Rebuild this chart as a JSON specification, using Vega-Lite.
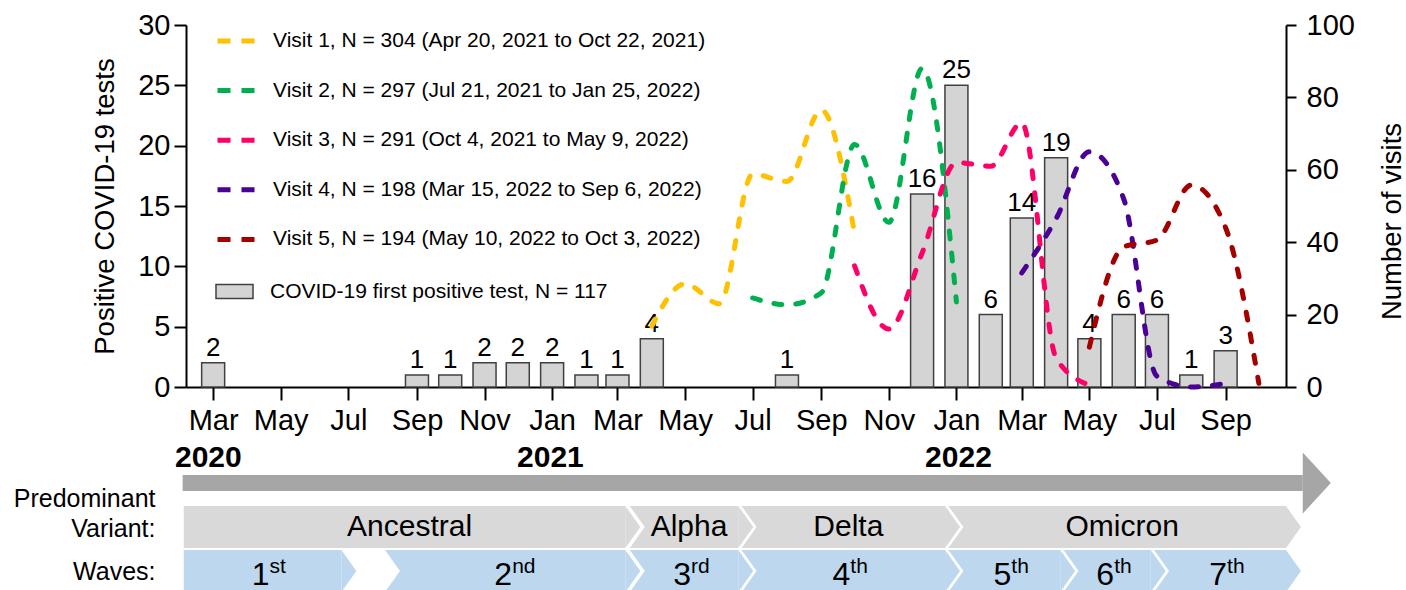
{
  "$schema": "https://vega.github.io/schema/vega-lite/v6.json",
  "autosize": {"type": "pad"},
  "padding": {"left": 13, "top": 11, "right": 0, "bottom": 0},
  "background": "white",
  "config": {
    "view": {"stroke": null},
    "font": "Liberation Sans",
    "axis": {"labelFont": "Liberation Sans", "titleFont": "Liberation Sans", "labelColor": "#000", "titleColor": "#000", "titleFontWeight": "normal", "domainColor": "#000", "tickColor": "#000", "grid": false},
    "legend": {"labelColor": "#000"}
  },
  "datasets": {
    "tests": [
      {"month": "2020-03-01T00:00", "tests": 2},
      {"month": "2020-09-01T00:00", "tests": 1},
      {"month": "2020-10-01T00:00", "tests": 1},
      {"month": "2020-11-01T00:00", "tests": 2},
      {"month": "2020-12-01T00:00", "tests": 2},
      {"month": "2021-01-01T00:00", "tests": 2},
      {"month": "2021-02-01T00:00", "tests": 1},
      {"month": "2021-03-01T00:00", "tests": 1},
      {"month": "2021-04-01T00:00", "tests": 4},
      {"month": "2021-08-01T00:00", "tests": 1},
      {"month": "2021-12-01T00:00", "tests": 16},
      {"month": "2022-01-01T00:00", "tests": 25},
      {"month": "2022-02-01T00:00", "tests": 6},
      {"month": "2022-03-01T00:00", "tests": 14},
      {"month": "2022-04-01T00:00", "tests": 19},
      {"month": "2022-05-01T00:00", "tests": 4},
      {"month": "2022-06-01T00:00", "tests": 6},
      {"month": "2022-07-01T00:00", "tests": 6},
      {"month": "2022-08-01T00:00", "tests": 1},
      {"month": "2022-09-01T00:00", "tests": 3}
    ],
    "visits": [
      {"series": "Visit 1, N = 304 (Apr 20, 2021 to Oct 22, 2021)", "month": "2021-04-01T00:00", "visits": 16.8},
      {"series": "Visit 1, N = 304 (Apr 20, 2021 to Oct 22, 2021)", "month": "2021-05-01T00:00", "visits": 28.5},
      {"series": "Visit 1, N = 304 (Apr 20, 2021 to Oct 22, 2021)", "month": "2021-06-01T00:00", "visits": 23},
      {"series": "Visit 1, N = 304 (Apr 20, 2021 to Oct 22, 2021)", "month": "2021-07-01T00:00", "visits": 58.8},
      {"series": "Visit 1, N = 304 (Apr 20, 2021 to Oct 22, 2021)", "month": "2021-08-01T00:00", "visits": 56.8},
      {"series": "Visit 1, N = 304 (Apr 20, 2021 to Oct 22, 2021)", "month": "2021-09-01T00:00", "visits": 76.5},
      {"series": "Visit 1, N = 304 (Apr 20, 2021 to Oct 22, 2021)", "month": "2021-10-01T00:00", "visits": 42.5},
      {"series": "Visit 2, N = 297 (Jul 21, 2021 to Jan 25, 2022)", "month": "2021-07-01T00:00", "visits": 24.6},
      {"series": "Visit 2, N = 297 (Jul 21, 2021 to Jan 25, 2022)", "month": "2021-08-01T00:00", "visits": 22.7},
      {"series": "Visit 2, N = 297 (Jul 21, 2021 to Jan 25, 2022)", "month": "2021-09-01T00:00", "visits": 26},
      {"series": "Visit 2, N = 297 (Jul 21, 2021 to Jan 25, 2022)", "month": "2021-10-01T00:00", "visits": 67},
      {"series": "Visit 2, N = 297 (Jul 21, 2021 to Jan 25, 2022)", "month": "2021-11-01T00:00", "visits": 45.5},
      {"series": "Visit 2, N = 297 (Jul 21, 2021 to Jan 25, 2022)", "month": "2021-12-01T00:00", "visits": 88},
      {"series": "Visit 2, N = 297 (Jul 21, 2021 to Jan 25, 2022)", "month": "2022-01-01T00:00", "visits": 23.5},
      {"series": "Visit 3, N = 291 (Oct 4, 2021 to May 9, 2022)", "month": "2021-10-01T00:00", "visits": 33.5},
      {"series": "Visit 3, N = 291 (Oct 4, 2021 to May 9, 2022)", "month": "2021-11-01T00:00", "visits": 16},
      {"series": "Visit 3, N = 291 (Oct 4, 2021 to May 9, 2022)", "month": "2021-12-01T00:00", "visits": 37},
      {"series": "Visit 3, N = 291 (Oct 4, 2021 to May 9, 2022)", "month": "2022-01-01T00:00", "visits": 62},
      {"series": "Visit 3, N = 291 (Oct 4, 2021 to May 9, 2022)", "month": "2022-02-01T00:00", "visits": 61},
      {"series": "Visit 3, N = 291 (Oct 4, 2021 to May 9, 2022)", "month": "2022-03-01T00:00", "visits": 73},
      {"series": "Visit 3, N = 291 (Oct 4, 2021 to May 9, 2022)", "month": "2022-04-01T00:00", "visits": 8},
      {"series": "Visit 3, N = 291 (Oct 4, 2021 to May 9, 2022)", "month": "2022-05-01T00:00", "visits": 0.5},
      {"series": "Visit 4, N = 198 (Mar 15, 2022 to Sep 6, 2022)", "month": "2022-03-01T00:00", "visits": 31.5},
      {"series": "Visit 4, N = 198 (Mar 15, 2022 to Sep 6, 2022)", "month": "2022-04-01T00:00", "visits": 46.5},
      {"series": "Visit 4, N = 198 (Mar 15, 2022 to Sep 6, 2022)", "month": "2022-05-01T00:00", "visits": 65},
      {"series": "Visit 4, N = 198 (Mar 15, 2022 to Sep 6, 2022)", "month": "2022-06-01T00:00", "visits": 52},
      {"series": "Visit 4, N = 198 (Mar 15, 2022 to Sep 6, 2022)", "month": "2022-07-01T00:00", "visits": 3},
      {"series": "Visit 4, N = 198 (Mar 15, 2022 to Sep 6, 2022)", "month": "2022-08-01T00:00", "visits": 0},
      {"series": "Visit 4, N = 198 (Mar 15, 2022 to Sep 6, 2022)", "month": "2022-09-01T00:00", "visits": 1},
      {"series": "Visit 5, N = 194 (May 10, 2022 to Oct 3, 2022)", "month": "2022-05-01T00:00", "visits": 11},
      {"series": "Visit 5, N = 194 (May 10, 2022 to Oct 3, 2022)", "month": "2022-06-01T00:00", "visits": 38.7},
      {"series": "Visit 5, N = 194 (May 10, 2022 to Oct 3, 2022)", "month": "2022-07-01T00:00", "visits": 40.6},
      {"series": "Visit 5, N = 194 (May 10, 2022 to Oct 3, 2022)", "month": "2022-08-01T00:00", "visits": 55.8},
      {"series": "Visit 5, N = 194 (May 10, 2022 to Oct 3, 2022)", "month": "2022-09-01T00:00", "visits": 44},
      {"series": "Visit 5, N = 194 (May 10, 2022 to Oct 3, 2022)", "month": "2022-10-01T00:00", "visits": 1}
    ],
    "timeline": [
      {"start": "2020-02-07T00:00", "end": "2022-11-05T00:00"}
    ],
    "years": [
      {"date": "2020-03-01T00:00", "year": "2020"},
      {"date": "2021-01-01T00:00", "year": "2021"},
      {"date": "2022-01-01T00:00", "year": "2022"}
    ],
    "chev": [
      {"lane": "variant", "label": "Ancestral", "sup": "", "start": "2020-02-08T00:00", "end": "2021-03-09T00:00"},
      {"lane": "variant", "label": "Alpha", "sup": "", "start": "2021-03-13T00:00", "end": "2021-06-18T00:00"},
      {"lane": "variant", "label": "Delta", "sup": "", "start": "2021-06-21T00:00", "end": "2021-12-20T00:00"},
      {"lane": "variant", "label": "Omicron", "sup": "", "start": "2021-12-23T00:00", "end": "2022-10-21T00:00"},
      {"lane": "wave", "label": "1", "sup": "st", "start": "2020-02-08T00:00", "end": "2020-06-28T00:00"},
      {"lane": "wave", "label": "2", "sup": "nd", "start": "2020-08-06T00:00", "end": "2021-03-09T00:00"},
      {"lane": "wave", "label": "3", "sup": "rd", "start": "2021-03-13T00:00", "end": "2021-06-18T00:00"},
      {"lane": "wave", "label": "4", "sup": "th", "start": "2021-06-21T00:00", "end": "2021-12-20T00:00"},
      {"lane": "wave", "label": "5", "sup": "th", "start": "2021-12-23T00:00", "end": "2022-04-02T00:00"},
      {"lane": "wave", "label": "6", "sup": "th", "start": "2022-04-05T00:00", "end": "2022-06-22T00:00"},
      {"lane": "wave", "label": "7", "sup": "th", "start": "2022-06-25T00:00", "end": "2022-10-21T00:00"}
    ]
  },
  "bounds": "flush",
  "spacing": 74,
  "resolve": {"legend": {"fill": "independent", "stroke": "independent"}},
  "vconcat": [
    {
      "width": 1100,
      "height": 362,
      "layer": [
        {
          "data": {"name": "tests"},
          "encoding": {
            "x": {"field": "month", "type": "temporal",
                  "scale": {"domain": [{"year": 2020, "month": 2, "date": 10}, {"year": 2022, "month": 10, "date": 21}]},
                  "axis": {"format": "%b", "tickCount": {"interval": "month", "step": 2}, "labelFontSize": 29, "tickSize": 13, "tickWidth": 2, "domainWidth": 2, "labelPadding": 6, "labelFlush": false, "labelOverlap": false, "title": null}},
            "y": {"field": "tests", "type": "quantitative", "scale": {"domain": [0, 30]},
                  "axis": {"values": [0, 5, 10, 15, 20, 25, 30], "title": "Positive COVID-19 tests", "titleFontSize": 27.5, "titlePadding": 18, "labelFontSize": 29, "tickSize": 12, "tickWidth": 2, "domainWidth": 2, "labelPadding": 4}}
          },
          "layer": [
            {
              "mark": {"type": "bar", "size": 23, "stroke": "#404040", "strokeWidth": 1.5},
              "encoding": {
                "fill": {"datum": "COVID-19 first positive test, N = 117", "type": "nominal",
                         "scale": {"range": ["#d4d4d4"]},
                         "legend": {"orient": "none", "legendX": 29, "legendY": 247, "title": null, "padding": 0,
                                    "symbolType": "M-1,-0.38H1V0.38H-1Z", "symbolSize": 1369, "symbolStrokeColor": "#404040", "symbolStrokeWidth": 1.5,
                                    "labelFontSize": 21, "labelFont": "Liberation Sans", "labelOffset": 16, "labelLimit": 0}}
              }
            },
            {
              "mark": {"type": "text", "fontSize": 26, "baseline": "alphabetic", "dy": -7, "color": "#000"},
              "encoding": {"text": {"field": "tests", "type": "quantitative"}}
            }
          ]
        },
        {
          "data": {"name": "visits"},
          "mark": {"type": "line", "strokeWidth": 5, "strokeDash": [8, 14], "strokeCap": "round", "interpolate": "monotone"},
          "encoding": {
            "x": {"field": "month", "type": "temporal",
                  "scale": {"domain": [{"year": 2020, "month": 2, "date": 10}, {"year": 2022, "month": 10, "date": 21}]}},
            "y": {"field": "visits", "type": "quantitative", "scale": {"domain": [0, 100]},
                  "axis": {"orient": "right", "values": [0, 20, 40, 60, 80, 100], "title": "Number of visits", "titleFontSize": 27.5,
                           "titleAngle": 270, "titleX": 114, "titleY": 196, "titleAlign": "center", "titleBaseline": "alphabetic",
                           "labelFontSize": 29, "tickSize": 10, "tickWidth": 2, "domainWidth": 2, "labelPadding": 10}},
            "stroke": {"field": "series", "type": "nominal",
                       "scale": {"domain": [
                         "Visit 1, N = 304 (Apr 20, 2021 to Oct 22, 2021)",
                         "Visit 2, N = 297 (Jul 21, 2021 to Jan 25, 2022)",
                         "Visit 3, N = 291 (Oct 4, 2021 to May 9, 2022)",
                         "Visit 4, N = 198 (Mar 15, 2022 to Sep 6, 2022)",
                         "Visit 5, N = 194 (May 10, 2022 to Oct 3, 2022)"],
                         "range": ["#FFC000", "#00B050", "#FF0066", "#4B0096", "#A50000"]},
                       "legend": {"orient": "none", "legendX": 29, "legendY": -5, "title": null, "padding": 0,
                                  "symbolType": "stroke", "symbolSize": 1369, "symbolStrokeWidth": 5, "symbolDash": [13, 11],
                                  "labelFontSize": 21, "labelFont": "Liberation Sans", "labelOffset": 16,
                                  "rowPadding": 18.6, "labelLimit": 0}}
          }
        }
      ],
      "resolve": {"scale": {"y": "independent"}}
    },
    {
      "width": 1100,
      "height": 132,
      "encoding": {
        "x": {"field": "start", "type": "temporal",
              "scale": {"domain": [{"year": 2020, "month": 2, "date": 10}, {"year": 2022, "month": 10, "date": 21}]},
              "axis": null},
        "y": {"field": "lane", "type": "nominal",
              "scale": {"type": "point", "domain": ["arrow", "variant", "wave"], "padding": 0.5},
              "axis": {"title": null, "domain": false, "ticks": false, "labelFontSize": 25, "labelPadding": 31, "labelLineHeight": 30,
                       "labelExpr": "datum.value == 'variant' ? ['Predominant', 'Variant:'] : datum.value == 'wave' ? 'Waves:' : ''",
                       "labelOffset": {"condition": {"test": "datum.value == 'variant'", "value": -29}, "value": 0}}}
      },
      "layer": [
        {
          "data": {"name": "timeline"},
          "mark": {"type": "bar", "size": 16, "color": "#a6a6a6"},
          "encoding": {"x2": {"field": "end"}, "y": {"datum": "arrow"}}
        },
        {
          "data": {"name": "timeline"},
          "mark": {"type": "point", "shape": "M0,-1L0.92,0L0,1Z", "size": 3721, "filled": true, "color": "#a6a6a6", "opacity": 1, "strokeWidth": 0},
          "encoding": {"x": {"field": "end", "type": "temporal"}, "y": {"datum": "arrow"}}
        },
        {
          "data": {"name": "years"},
          "mark": {"type": "text", "fontSize": 30, "fontWeight": "bold", "dy": -25, "color": "#000"},
          "encoding": {"x": {"field": "date", "type": "temporal"}, "y": {"datum": "arrow"}, "text": {"field": "year"}}
        },
        {
          "data": {"name": "chev"},
          "mark": {"type": "bar", "size": 42},
          "encoding": {
            "x2": {"field": "end"},
            "color": {"field": "lane", "type": "nominal", "scale": {"domain": ["variant", "wave"], "range": ["#d9d9d9", "#bdd7ee"]}, "legend": null}
          }
        },
        {
          "data": {"name": "chev"},
          "transform": [{"filter": "datum.label != 'Ancestral' && datum.label != '1'"}],
          "mark": {"type": "point", "shape": "M0,-1L0.714,0L0,1Z", "size": 1764, "filled": true, "color": "white", "opacity": 1, "strokeWidth": 0}
        },
        {
          "data": {"name": "chev"},
          "mark": {"type": "point", "shape": "M0,-1L0.714,0L0,1Z", "size": 1764, "filled": true, "opacity": 1, "strokeWidth": 0},
          "encoding": {
            "x": {"field": "end", "type": "temporal"},
            "color": {"field": "lane", "type": "nominal", "legend": null}
          }
        },
        {
          "data": {"name": "chev", "format": {"parse": {"start": "date", "end": "date"}}},
          "transform": [
            {"filter": "datum.lane == 'variant'"},
            {"fold": ["start", "end"], "as": ["edge", "date"]},
            {"aggregate": [{"op": "mean", "field": "date", "as": "mid"}], "groupby": ["lane", "label"]}
          ],
          "mark": {"type": "text", "fontSize": 30, "dx": 5, "color": "#000"},
          "encoding": {"x": {"field": "mid", "type": "temporal"}, "text": {"field": "label"}}
        },
        {
          "data": {"name": "chev", "format": {"parse": {"start": "date", "end": "date"}}},
          "transform": [
            {"filter": "datum.lane == 'wave'"},
            {"fold": ["start", "end"], "as": ["edge", "date"]},
            {"aggregate": [{"op": "mean", "field": "date", "as": "mid"}], "groupby": ["lane", "label", "sup"]}
          ],
          "mark": {"type": "text", "fontSize": 32, "align": "right", "dx": 7, "dy": 4, "color": "#000"},
          "encoding": {"x": {"field": "mid", "type": "temporal"}, "text": {"field": "label"}}
        },
        {
          "data": {"name": "chev", "format": {"parse": {"start": "date", "end": "date"}}},
          "transform": [
            {"filter": "datum.lane == 'wave'"},
            {"fold": ["start", "end"], "as": ["edge", "date"]},
            {"aggregate": [{"op": "mean", "field": "date", "as": "mid"}], "groupby": ["lane", "label", "sup"]}
          ],
          "mark": {"type": "text", "fontSize": 21, "align": "left", "dx": 7, "dy": -4, "color": "#000"},
          "encoding": {"x": {"field": "mid", "type": "temporal"}, "text": {"field": "sup"}}
        }
      ]
    }
  ]
}
